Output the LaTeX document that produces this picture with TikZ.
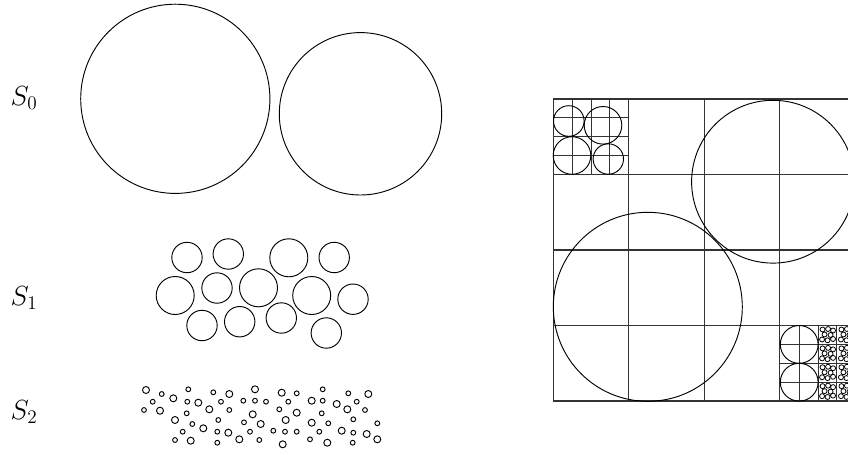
\documentclass[tikz,border=0pt]{standalone}
\usetikzlibrary{positioning}

\begin{document}
\begin{tikzpicture}[x=0.75pt,y=-0.75pt,
      lbl/.style={font=\fontsize{20}{24}\selectfont,inner sep=0pt},
      disk/.style={draw=black,line width=0.7pt},
      gridline/.style={draw=black!80,line width=0.8pt}]
    \useasboundingbox (0,0) rectangle (848,454);
    % row labels
    \node[lbl] (s0) at (24,98) {$S_0$};
    \node[lbl] (s1) at (24,298) {$S_1$};
    \node[lbl] (s2) at (24,412) {$S_2$};
    % S_0
    \draw[disk] (175.3,98.8) circle[radius=94.6];
    \draw[disk] (360.5,113.8) circle[radius=81.2];
    % S_1
    \foreach \cx/\cy/\r in {187/257.5/15.2, 228.3/254/15.2, 288.8/257.8/19, 334.2/257.5/15.2,
        175.2/295.5/19, 217/288/15.2, 258.5/287.8/19, 311.7/295.5/19, 353/299.2/15.2,
        202/325.5/15.2, 239.7/321.7/15.2, 281.3/318/15.2, 326.3/333/15.2}
      \draw[disk] (\cx,\cy) circle[radius=\r];
    % S_2
    \foreach \cx/\cy/\r in {146/390/3.5, 161.7/394/2.4, 152.7/401.7/2.4, 173.3/398.3/3.5,
        188.3/389.3/2.4, 187.3/401.7/2.4, 144/410/2.4, 160/410.7/3.5, 198.3/402.7/3.5,
        213.3/392.3/2.4, 229.3/394/3.5, 221/401.7/2.4, 209.3/409.3/3.5, 229.3/410/2.4,
        243.3/400.7/2.4, 255/389.3/3.5, 255/400.7/2.4, 266/401.7/2.4, 281.7/392.7/3.5,
        296.7/393.3/2.4, 288.3/401.7/2.4, 279.3/409.3/2.4, 311.7/400.7/3.5, 322.7/389.3/2.4,
        322.7/400.7/2.4, 336.7/404/3.5, 348.3/393.3/2.4, 368.3/394/3.5, 356.7/401.7/2.4,
        347.3/409.3/3.5, 365/410/2.4, 186.7/413.3/2.4, 175/420/3.5, 192.3/424/2.4,
        182.7/431.7/2.4, 203.3/428.3/3.5, 218.3/420/2.4, 217.3/431.7/2.4, 228.3/432.7/3.5,
        217.3/442.7/2.4, 175/440/2.4, 190.7/440.7/3.5, 239.3/439.3/3.5, 252.7/414.3/3.5,
        244/422.3/2.4, 260.7/424/3.5, 250/431.7/2.4, 259.3/440/2.4, 273.3/430.7/2.4,
        285.7/420/3.5, 296.7/412.7/3.5, 285/431.7/2.4, 296.7/431.7/2.4, 282.7/444.3/3.5,
        321.7/413.3/2.4, 311.7/422.7/3.5, 328.3/423.3/2.4, 319.3/431.7/2.4, 310/439.3/2.4,
        327.3/442.7/3.5, 353.3/419.3/2.4, 341.7/430.7/3.5, 353.3/432.7/2.4, 366.7/434/3.5,
        352.7/442.7/2.4, 377.3/423.3/2.4, 377.3/439.3/3.5}
      \draw[disk] (\cx,\cy) circle[radius=\r];
    % quadtree
    \begin{scope}
      \clip (552,98) rectangle (848,402);
      \foreach \k in {0,...,4} {
        \draw[gridline] (553.3+75.5*\k,99) -- (553.3+75.5*\k,401);
        \draw[gridline] (553.3,99+75.5*\k) -- (855.3,99+75.5*\k);
      }
      % top-left cell
      \foreach \k in {1,2,3} {
        \draw[gridline] (553.3+18.875*\k,99) -- ++(0,75.5);
        \draw[gridline] (553.3,99+18.875*\k) -- ++(75.5,0);
      }
      \foreach \cx/\cy/\r in {568.8/121/15.3, 603/125.3/18.8, 572/155.5/18.8, 608.3/159/15.2}
        \draw[disk] (\cx,\cy) circle[radius=\r];
      % large circles
      \draw[disk] (647.8,306.8) circle[radius=94.5];
      \draw[disk] (773,181.7) circle[radius=81.4];
      % bottom-right cell
      \foreach \k in {1,2,3} {
        \draw[gridline] (780.3+18.875*\k,325.5) -- ++(0,75.5);
        \draw[gridline] (780.3,325.5+18.875*\k) -- ++(75.5,0);
      }
      \draw[disk] (799.2,344.4) circle[radius=18.9];
      \draw[disk] (799.2,382.2) circle[radius=18.9];
      \foreach \gx in {818.05,836.925}
        \foreach \gy in {325.5,344.375,363.25,382.125}
          \foreach \dx/\dy in {4.5/4, 10/3.5, 15/5, 6.5/9, 12.5/9.5, 4/14, 9.5/14.8, 15/13.5}
            \draw[line width=0.6pt] (\gx+\dx,\gy+\dy) circle[radius=2.5];
    \end{scope}
  \end{tikzpicture}
\end{document}
